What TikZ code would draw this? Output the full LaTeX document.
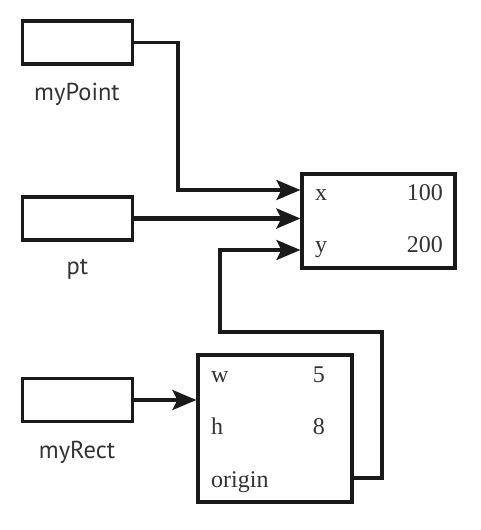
\documentclass[tikz,border=0pt]{standalone}
\usepackage{fontspec}
\setmainfont{Liberation Serif}
\newfontfamily\labelfont{PT Sans}
\usetikzlibrary{arrows.meta}
\definecolor{ink}{HTML}{1A1A1A}
\definecolor{txt}{HTML}{333333}
\begin{document}
\begin{tikzpicture}[x=1pt,y=-1pt,
  varbox/.style={draw=ink,line width=3.2pt,minimum width=110pt,minimum height=43pt,inner sep=0pt},
  objbox/.style={draw=ink,line width=3.2pt,inner sep=0pt},
  varname/.style={font=\labelfont\fontsize{24.5}{28}\selectfont,text=txt,anchor=base,inner sep=0pt},
  fieldl/.style={font=\fontsize{24}{28}\selectfont,text=txt,anchor=base west,inner sep=0pt},
  fieldr/.style={font=\fontsize{24}{28}\selectfont,text=txt,anchor=base east,inner sep=0pt},
  conn/.style={draw=ink,line width=3.2pt},
  arr/.style={conn,-{Stealth[length=24pt,width=20pt,inset=5pt]}}]
\useasboundingbox (0,0) rectangle (480,530);
% variable boxes
\node[varbox] (mp) at (77.5,42.5) {};
\node[varbox] (pt) at (77.5,218.5) {};
\node[varbox] (mr) at (77.5,400) {};
\node[varname] (lmp) at (77,100) {myPoint};
\node[varname] (lpt) at (77.5,274) {pt};
\node[varname] (lmr) at (77,458) {myRect};
% point object
\node[objbox,minimum width=153pt,minimum height=94pt] (pobj) at (378.5,221) {};
\node[fieldl] (fx) at (315,200) {x};
\node[fieldr] (vx) at (443,200) {100};
\node[fieldl] (fy) at (315,252) {y};
\node[fieldr] (vy) at (443,252) {200};
% rect object
\node[objbox,minimum width=154pt,minimum height=147pt] (robj) at (275,428.5) {};
\node[fieldl] (fw) at (211,382) {w};
\node[fieldr] (vw) at (325,382) {5};
\node[fieldl] (fh) at (211,434) {h};
\node[fieldr] (vh) at (325,434) {8};
\node[fieldl] (fo) at (211,487) {origin};
% connector bend points
\coordinate (b1) at (178,190);
\coordinate (ya) at (0,250);
\coordinate (oa) at (0,478);
\coordinate (c1) at (382,332);
\coordinate (c2) at (220,332);
% connectors
\draw[arr] (mp.east) -| (b1) -- (b1 -| pobj.west);
\draw[arr,line width=4.2pt] (pt.east) -- (pt.east -| pobj.west);
\draw[arr] (mr.east) -- (mr.east -| robj.west);
\draw[arr] (robj.east |- oa) -| (c1) -- (c2) -- (c2 |- ya) -- (pobj.west |- ya);
\end{tikzpicture}
\end{document}
